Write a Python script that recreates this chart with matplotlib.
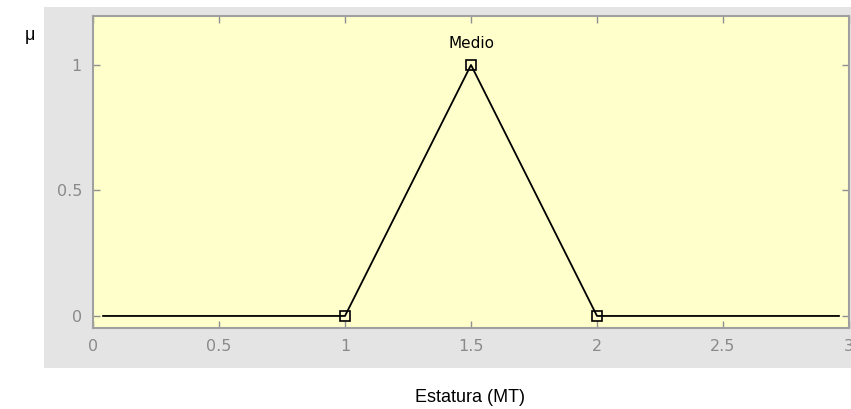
import matplotlib.pyplot as plt
import matplotlib.patches as patches

# membership function "Medio" (triangular)
x_vals = [0.04, 1.0, 1.5, 2.0, 2.96]
mu_vals = [0.0, 0.0, 1.0, 0.0, 0.0]
marker_x = [1.0, 1.5, 2.0]
marker_mu = [0.0, 1.0, 0.0]
mf_name = "Medio"
x_ticks = [0, 0.5, 1, 1.5, 2, 2.5, 3]
x_tick_labels = ["0", "0.5", "1", "1.5", "2", "2.5", "3"]
y_ticks = [0, 0.5, 1]
y_tick_labels = ["0", "0.5", "1"]

W, H = 851, 409
fig = plt.figure(figsize=(W / 100, H / 100), dpi=100)
fig.patch.set_facecolor("white")

# grey panel behind the axes
fig.add_artist(patches.Rectangle((44 / W, 1 - 368 / H), (W - 44) / W, (368 - 7) / H,
                                 transform=fig.transFigure, facecolor="#e4e4e4",
                                 edgecolor="none", zorder=0))

ax = fig.add_axes([93 / W, 1 - 328 / H, (849 - 93) / W, (328 - 16) / H])
ax.set_facecolor("#ffffcc")
ax.plot(x_vals, mu_vals, color="black", lw=1.3, zorder=3)
ax.plot(marker_x, marker_mu, ls="none", marker="s", ms=6.5, mfc="none", mec="black",
        mew=1.2, zorder=4)
ax.text(1.5, 1.055, mf_name, ha="center", va="bottom", fontsize=11, color="black")

ax.set_xlim(0, 3)
ax.set_ylim(-0.048, 1.195)
ax.set_xticks(x_ticks)
ax.set_xticklabels(x_tick_labels)
ax.set_yticks(y_ticks)
ax.set_yticklabels(y_tick_labels)
ax.tick_params(direction="in", length=5, width=1, color="#909090", labelcolor="#8a8a8a",
               labelsize=11.5, top=True, right=True, pad=8)
for s in ax.spines.values():
    s.set_color("#a0a0a0")
    s.set_linewidth(1.5)

fig.text(30 / W, 1 - 36 / H, "μ", fontsize=13, family="Liberation Sans", ha="center", va="center")
fig.text(470 / W, 1 - 397 / H, "Estatura (MT)", fontsize=13, family="Liberation Sans",
         ha="center", va="center")

fig.savefig("out.png", dpi=100)
